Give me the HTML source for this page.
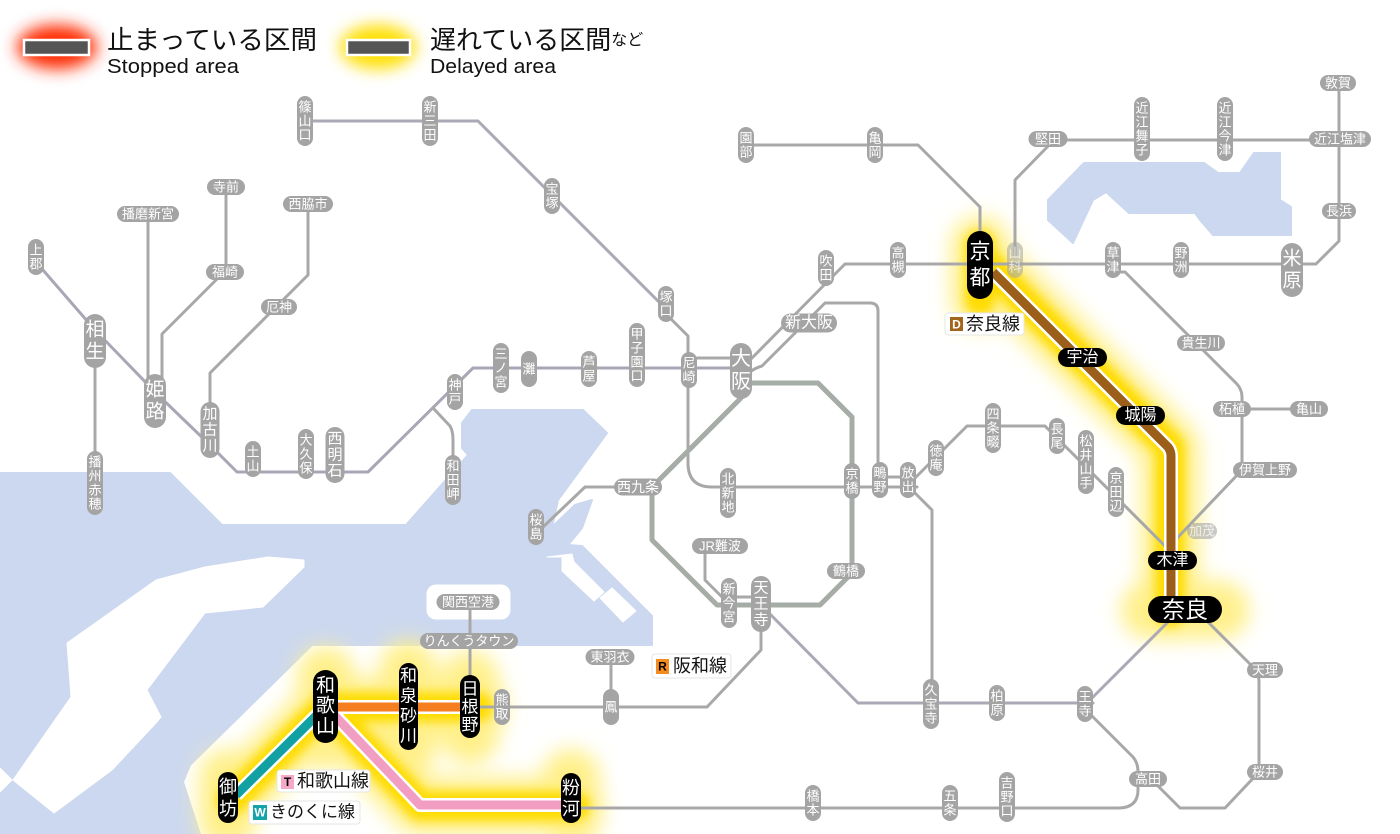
<!DOCTYPE html>
<html><head><meta charset="utf-8"><style>
html,body{margin:0;padding:0;background:#fff;}
body{width:1400px;height:834px;overflow:hidden;}
svg{display:block;font-family:"Liberation Sans","Noto Sans CJK JP",sans-serif;}
.g{fill:none;stroke:#a8a8a8;stroke-width:3;stroke-linejoin:round;stroke-linecap:round;}
.sp{fill:#a4a4a4;}
.st{fill:#fff;font-size:13px;text-anchor:middle;dominant-baseline:central;}
.m{font-size:15px;}
.l{font-size:19px;}
.bk{fill:#000;}
.bt{fill:#fff;text-anchor:middle;dominant-baseline:central;}
.lg{fill:#fff;stroke:#e6e6e6;stroke-width:1;}
.lt{fill:#111;dominant-baseline:central;}
</style></head><body>
<svg width="1400" height="834" viewBox="0 0 1400 834" xmlns="http://www.w3.org/2000/svg">
<defs>
<filter id="bl" filterUnits="userSpaceOnUse" x="0" y="0" width="1400" height="834"><feGaussianBlur stdDeviation="10"/></filter>
<filter id="bs" filterUnits="userSpaceOnUse" x="0" y="0" width="1400" height="834"><feGaussianBlur stdDeviation="5"/></filter>
<filter id="bm" filterUnits="userSpaceOnUse" x="0" y="0" width="1400" height="834"><feGaussianBlur stdDeviation="8"/></filter>
</defs>

<!-- water -->
<g fill="#ccd8ef" stroke="#ccd8ef" stroke-width="2" stroke-linejoin="round">
<polygon points="0,473 170,473 222,525 406,525 468,455 462,448 462,423 472,410 583,410 607,433 558,500 552,527 575,505 592,500 582,528 568,545 582,546 652,616 652,645 312,645 190,765 183,782 200,834 0,834"/>
<polygon points="1084,163 1204,163 1218,173 1240,173 1254,153 1280,153 1280,200 1291,207 1291,235 1213,235 1200,220 1195,213 1129,213 1106,192 1093,200 1073,243 1048,220 1048,200"/>
</g>
<g fill="#fff" stroke="#fff" stroke-width="1" stroke-linejoin="round">
<polygon points="205,567 268,557 304,560 304,567 263,607 205,613 147,690 161,717 156,723 112,770 54,813 13,780 71,697 67,643 156,580"/>
<polygon points="0,768 12,780 0,792"/>
<rect x="427" y="585" width="83" height="34" rx="9"/>
<polygon points="547,557 562,557 562,571 594,601 604,592 574,562 572,554"/>
<polygon points="600,598 612,588 636,611 623,622"/>
</g>

<!-- legend glows -->
<ellipse cx="57" cy="47" rx="40" ry="22" fill="#ff2a00" filter="url(#bm)"/>
<ellipse cx="378" cy="47" rx="38" ry="22" fill="#ffdf00" filter="url(#bm)"/>
<rect x="24" y="40" width="65" height="15" fill="#555" stroke="#fff" stroke-width="2.5"/>
<rect x="347" y="40" width="63" height="15" fill="#555" stroke="#fff" stroke-width="2.5"/>
<text x="107" y="40" font-size="26" class="lt" textLength="210" lengthAdjust="spacingAndGlyphs">止まっている区間</text>
<text x="107" y="73" font-size="20" fill="#111" textLength="132" lengthAdjust="spacingAndGlyphs">Stopped area</text>
<text x="430" y="40" font-size="26" class="lt">遅れている区間<tspan font-size="16">など</tspan></text>
<text x="430" y="73" font-size="20" fill="#111" textLength="126" lengthAdjust="spacingAndGlyphs">Delayed area</text>

<!-- yellow glows on map -->
<g fill="none" stroke-linecap="round" stroke-linejoin="round">
<path d="M980,245 V300 M985,262 L1170,447 V612 M1150,610 H1220" stroke="#fff08a" stroke-width="58" filter="url(#bl)"/>
<path d="M980,245 V300 M985,262 L1170,447 V612" stroke="#ffdc00" stroke-width="30" filter="url(#bs)"/>
<path d="M478,707 H326 L232,800 M326,707 L420,806 H575 M326,676 V740 M408,670 V745 M470,680 V735 M228,778 V820 M571,778 V820" stroke="#fff08a" stroke-width="58" filter="url(#bl)"/>
<path d="M478,707 H326 L232,800 M326,707 L420,806 H575" stroke="#ffdc00" stroke-width="30" filter="url(#bs)"/>
</g>

<!-- gray lines -->
<g class="g">
<path d="M305,121 H478 L667,310" stroke="#aca8b6"/>
<path d="M667,315 L688,336 V463 Q688,487 712,487 H917"/>
<path d="M880,477 H910"/>
<path d="M36,262 L95,330 L155,392 L210,445 L237,472 H368 L473,368 H741" stroke="#aaa6b6"/>
<path d="M433,408 L450,426 Q453,431 453,440 V480"/>
<path d="M689,358 H741"/>
<path d="M95,360 V500"/>
<path d="M148,214 V385"/>
<path d="M226,190 V270 L162,334 V390"/>
<path d="M308,208 V275 L210,373 V420"/>
<path d="M746,145 H918 L980,207 V240"/>
<path d="M748,362 L833,276 L845,264 H1316 L1339,241 V83"/>
<path d="M1015,255 V180 L1054,140 H1340"/>
<path d="M750,372 Q755,368 762,366 L825,303 H870 Q878,303 878,311 V487"/>
<path d="M638,487 H585 L543,527"/>
<path d="M705,546 V580 L722,597 H755"/>
<path d="M761,630 V650 L707,707 H480"/>
<path d="M611,660 V700"/>
<path d="M470,602 V680"/>
<path d="M768,612 L858,703 H1093" stroke="#aca8b6"/>
<path d="M1090,700 L1167,623" stroke="#aca8b6"/>
<path d="M912,490 L932,510 V704"/>
<path d="M915,478 L967,426 H1045 L1170,551"/>
<path d="M1113,272 H1125 L1236,383 Q1242,389 1242,397 V470 L1180,535 L1171,545"/>
<path d="M1232,409 H1309"/>
<path d="M1208,622 L1250,664 Q1259,672 1259,682 V772 L1225,808 H1180 L1157,785"/>
<path d="M1091,715 L1133,757 Q1138,763 1138,772"/>
<path d="M580,808 H1118 Q1138,808 1138,790 V780"/>
<path d="M741,383 H818 L852,417 V573 L820,605 H717 L652,540 V487 L741,398" stroke-width="5" stroke="#a6aca6"/>
</g>

<!-- highlighted lines -->
<g fill="none" stroke-linejoin="round">
<path d="M993,272 L1168,447 Q1171,451 1171,456 V600" stroke="#fff" stroke-width="14"/>
<path d="M993,272 L1168,447 Q1171,451 1171,456 V600" stroke="#9c5f1a" stroke-width="9"/>
<path d="M336,707 H462" stroke="#fff" stroke-width="14"/>
<path d="M336,707 H462" stroke="#f57f20" stroke-width="9"/>
<path d="M318,714 L236,795" stroke="#fff" stroke-width="14"/>
<path d="M318,714 L236,795" stroke="#12a0a3" stroke-width="9"/>
<path d="M335,716 L420,805 H563" stroke="#fff" stroke-width="14"/>
<path d="M335,716 L420,805 H563" stroke="#f19ec2" stroke-width="9"/>
</g>

<!-- gray vertical stations -->
<g>
<g class="sp">
<rect x="297" y="96" width="16" height="50" rx="8"/>
<rect x="422" y="96" width="16" height="50" rx="8"/>
<rect x="544" y="178" width="16" height="36" rx="8"/>
<rect x="658" y="286" width="16" height="36" rx="8"/>
<rect x="681" y="352" width="16" height="36" rx="8"/>
<rect x="629" y="323" width="16" height="64" rx="8"/>
<rect x="581" y="351" width="16" height="36" rx="8"/>
<rect x="521" y="351" width="16" height="36" rx="8"/>
<rect x="493" y="343" width="16" height="50" rx="8"/>
<rect x="447" y="374" width="16" height="36" rx="8"/>
<rect x="445" y="455" width="16" height="50" rx="8"/>
<rect x="298" y="429" width="16" height="50" rx="8"/>
<rect x="245" y="441" width="16" height="36" rx="8"/>
<rect x="28" y="239" width="16" height="36" rx="8"/>
<rect x="87" y="451" width="16" height="64" rx="8"/>
<rect x="738" y="127" width="16" height="36" rx="8"/>
<rect x="867" y="127" width="16" height="36" rx="8"/>
<rect x="818" y="250" width="16" height="36" rx="8"/>
<rect x="890" y="242" width="16" height="36" rx="8"/>
<rect x="1007" y="242" width="16" height="36" rx="8" opacity="0.55"/>
<rect x="1105" y="242" width="16" height="36" rx="8"/>
<rect x="1173" y="242" width="16" height="36" rx="8"/>
<rect x="1134" y="97" width="16" height="64" rx="8"/>
<rect x="1217" y="97" width="16" height="64" rx="8"/>
<rect x="985" y="403" width="16" height="50" rx="8"/>
<rect x="928" y="440" width="16" height="36" rx="8"/>
<rect x="1049" y="418" width="16" height="36" rx="8"/>
<rect x="1078" y="430" width="16" height="64" rx="8"/>
<rect x="1108" y="467" width="16" height="50" rx="8"/>
<rect x="720" y="468" width="16" height="50" rx="8"/>
<rect x="844" y="463" width="16" height="36" rx="8"/>
<rect x="872" y="462" width="16" height="36" rx="8"/>
<rect x="900" y="462" width="16" height="36" rx="8"/>
<rect x="528" y="509" width="16" height="36" rx="8"/>
<rect x="721" y="578" width="16" height="50" rx="8"/>
<rect x="923" y="679" width="16" height="50" rx="8"/>
<rect x="989" y="685" width="16" height="36" rx="8"/>
<rect x="1077" y="686" width="16" height="36" rx="8"/>
<rect x="494" y="689" width="16" height="36" rx="8"/>
<rect x="603" y="689" width="16" height="36" rx="8"/>
<rect x="999" y="772" width="16" height="50" rx="8"/>
<rect x="942" y="785" width="16" height="36" rx="8"/>
<rect x="805" y="785" width="16" height="36" rx="8"/>
<rect x="325.5" y="427" width="19" height="56" rx="9.5"/>
<rect x="200.5" y="402" width="19" height="56" rx="9.5"/>
<rect x="751" y="576" width="20" height="56" rx="10"/>
<rect x="144" y="374" width="22" height="54" rx="11"/>
<rect x="84" y="314" width="22" height="54" rx="11"/>
<rect x="1281" y="243" width="22" height="54" rx="11"/>
<rect x="730" y="343" width="22" height="56" rx="11"/>
</g>
<g class="st">
<text x="305" y="107">篠</text><text x="305" y="121">山</text><text x="305" y="135">口</text>
<text x="430" y="107">新</text><text x="430" y="121">三</text><text x="430" y="135">田</text>
<text x="552" y="189">宝</text><text x="552" y="203">塚</text>
<text x="666" y="297">塚</text><text x="666" y="311">口</text>
<text x="689" y="363">尼</text><text x="689" y="377">崎</text>
<text x="637" y="334">甲</text><text x="637" y="348">子</text><text x="637" y="362">園</text><text x="637" y="376">口</text>
<text x="589" y="362">芦</text><text x="589" y="376">屋</text>
<text x="529" y="369">灘</text>
<text x="501" y="354">三</text><text x="501" y="368">ノ</text><text x="501" y="382">宮</text>
<text x="455" y="385">神</text><text x="455" y="399">戸</text>
<text x="453" y="466">和</text><text x="453" y="480">田</text><text x="453" y="494">岬</text>
<text x="306" y="440">大</text><text x="306" y="454">久</text><text x="306" y="468">保</text>
<text x="253" y="452">土</text><text x="253" y="466">山</text>
<text x="36" y="250">上</text><text x="36" y="264">郡</text>
<text x="95" y="462">播</text><text x="95" y="476">州</text><text x="95" y="490">赤</text><text x="95" y="504">穂</text>
<text x="746" y="138">園</text><text x="746" y="152">部</text>
<text x="875" y="138">亀</text><text x="875" y="152">岡</text>
<text x="826" y="261">吹</text><text x="826" y="275">田</text>
<text x="898" y="253">高</text><text x="898" y="267">槻</text>
<g opacity="0.7"><text x="1015" y="253">山</text><text x="1015" y="267">科</text></g>
<text x="1113" y="253">草</text><text x="1113" y="267">津</text>
<text x="1181" y="253">野</text><text x="1181" y="267">洲</text>
<text x="1142" y="108">近</text><text x="1142" y="122">江</text><text x="1142" y="136">舞</text><text x="1142" y="150">子</text>
<text x="1225" y="108">近</text><text x="1225" y="122">江</text><text x="1225" y="136">今</text><text x="1225" y="150">津</text>
<text x="993" y="414">四</text><text x="993" y="428">条</text><text x="993" y="442">畷</text>
<text x="936" y="451">徳</text><text x="936" y="465">庵</text>
<text x="1057" y="429">長</text><text x="1057" y="443">尾</text>
<text x="1086" y="441">松</text><text x="1086" y="455">井</text><text x="1086" y="469">山</text><text x="1086" y="483">手</text>
<text x="1116" y="478">京</text><text x="1116" y="492">田</text><text x="1116" y="506">辺</text>
<text x="728" y="479">北</text><text x="728" y="493">新</text><text x="728" y="507">地</text>
<text x="852" y="474">京</text><text x="852" y="488">橋</text>
<text x="880" y="473">鴫</text><text x="880" y="487">野</text>
<text x="908" y="473">放</text><text x="908" y="487">出</text>
<text x="536" y="520">桜</text><text x="536" y="534">島</text>
<text x="729" y="589">新</text><text x="729" y="603">今</text><text x="729" y="617">宮</text>
<text x="931" y="690">久</text><text x="931" y="704">宝</text><text x="931" y="718">寺</text>
<text x="997" y="696">柏</text><text x="997" y="710">原</text>
<text x="1085" y="697">王</text><text x="1085" y="711">寺</text>
<text x="502" y="700">熊</text><text x="502" y="714">取</text>
<text x="611" y="707">鳳</text>
<text x="1007" y="783">吉</text><text x="1007" y="797">野</text><text x="1007" y="811">口</text>
<text x="950" y="796">五</text><text x="950" y="810">条</text>
<text x="813" y="796">橋</text><text x="813" y="810">本</text>
</g>
<g class="st m">
<text x="335" y="439">西</text><text x="335" y="455">明</text><text x="335" y="471">石</text>
<text x="210" y="414">加</text><text x="210" y="430">古</text><text x="210" y="446">川</text>
<text x="761" y="588">天</text><text x="761" y="604">王</text><text x="761" y="620">寺</text>
</g>
<g class="st l">
<text x="155" y="390">姫</text><text x="155" y="412">路</text>
<text x="95" y="330">相</text><text x="95" y="352">生</text>
<text x="1292" y="259">米</text><text x="1292" y="281">原</text>
<text x="741" y="359" font-size="20">大</text><text x="741" y="382" font-size="20">阪</text>
</g>
</g>

<!-- gray horizontal stations -->
<g class="sp">
<rect x="207" y="179" width="38" height="16" rx="8"/>
<rect x="117" y="206" width="62" height="16" rx="8"/>
<rect x="283" y="196" width="50" height="16" rx="8"/>
<rect x="206" y="264" width="38" height="16" rx="8"/>
<rect x="261" y="299" width="36" height="16" rx="8"/>
<rect x="781" y="313.5" width="56" height="19" rx="9.5"/>
<rect x="614" y="478.5" width="48" height="17" rx="8.5"/>
<rect x="692" y="538" width="56" height="16" rx="8"/>
<rect x="827" y="563" width="38" height="16" rx="8"/>
<rect x="585.5" y="649" width="49" height="16" rx="8"/>
<rect x="420" y="633" width="98" height="16" rx="8"/>
<rect x="436.5" y="594" width="63" height="16" rx="8"/>
<rect x="1028.5" y="131" width="39" height="16" rx="8"/>
<rect x="1320" y="75" width="36" height="16" rx="8"/>
<rect x="1309" y="131" width="62" height="16" rx="8"/>
<rect x="1322" y="203" width="34" height="16" rx="8"/>
<rect x="1177" y="335" width="48" height="16" rx="8"/>
<rect x="1213" y="401" width="38" height="16" rx="8"/>
<rect x="1290" y="401" width="38" height="16" rx="8"/>
<rect x="1233" y="462" width="64" height="16" rx="8"/>
<rect x="1187" y="523" width="30" height="16" rx="8" opacity="0.6"/>
<rect x="1247" y="662" width="36" height="16" rx="8"/>
<rect x="1247" y="764" width="36" height="16" rx="8"/>
<rect x="1129" y="771" width="38" height="16" rx="8"/>
</g>
<g class="st">
<text x="226" y="187">寺前</text>
<text x="148" y="214">播磨新宮</text>
<text x="308" y="204">西脇市</text>
<text x="225" y="272">福崎</text>
<text x="279" y="307">厄神</text>
<text x="809" y="323" font-size="16">新大阪</text>
<text x="638" y="487" font-size="14">西九条</text>
<text x="720" y="546">JR難波</text>
<text x="846" y="571">鶴橋</text>
<text x="610" y="657">東羽衣</text>
<text x="469" y="641">りんくうタウン</text>
<text x="468" y="602">関西空港</text>
<text x="1048" y="139">堅田</text>
<text x="1338" y="83">敦賀</text>
<text x="1340" y="139">近江塩津</text>
<text x="1339" y="211">長浜</text>
<text x="1201" y="343">貴生川</text>
<text x="1232" y="409">柘植</text>
<text x="1309" y="409">亀山</text>
<text x="1265" y="470">伊賀上野</text>
<text x="1202" y="531" opacity="0.75">加茂</text>
<text x="1265" y="670">天理</text>
<text x="1265" y="772">桜井</text>
<text x="1148" y="779">高田</text>
</g>

<!-- black stations -->
<g class="bk">
<rect x="967" y="231" width="26" height="68" rx="13"/>
<rect x="1058" y="348" width="49" height="19" rx="9.5"/>
<rect x="1116" y="406" width="49" height="19" rx="9.5"/>
<rect x="1148" y="551" width="49" height="19" rx="9.5"/>
<rect x="1148" y="596" width="74" height="27" rx="13.5"/>
<rect x="313" y="670" width="25" height="73" rx="12.5"/>
<rect x="399" y="663" width="19" height="87" rx="9.5"/>
<rect x="460" y="675" width="20" height="63" rx="10"/>
<rect x="218" y="772" width="20" height="51" rx="10"/>
<rect x="561" y="773" width="20" height="50" rx="10"/>
</g>
<g class="bt">
<text x="980" y="252" font-size="21">京</text><text x="980" y="278" font-size="21">都</text>
<text x="1082.5" y="357.5" font-size="16">宇治</text>
<text x="1140.5" y="415.5" font-size="16">城陽</text>
<text x="1172.5" y="560.5" font-size="16">木津</text>
<text x="1185" y="609.5" font-size="23">奈良</text>
<text x="325.5" y="686" font-size="19">和</text><text x="325.5" y="706" font-size="19">歌</text><text x="325.5" y="727" font-size="19">山</text>
<text x="408.5" y="676" font-size="17">和</text><text x="408.5" y="696" font-size="17">泉</text><text x="408.5" y="716" font-size="17">砂</text><text x="408.5" y="736" font-size="17">川</text>
<text x="470" y="689" font-size="17">日</text><text x="470" y="707" font-size="17">根</text><text x="470" y="725" font-size="17">野</text>
<text x="228" y="787" font-size="18">御</text><text x="228" y="809" font-size="18">坊</text>
<text x="571" y="788" font-size="18">粉</text><text x="571" y="809" font-size="18">河</text>
</g>

<!-- line name labels -->
<g>
<rect class="lg" x="945" y="313" width="79" height="22" rx="3"/>
<rect x="950" y="317" width="13" height="14" fill="#a3651c"/>
<text x="956.5" y="324.5" font-size="12" font-weight="bold" class="bt">D</text>
<text x="966" y="324" font-size="18" class="lt">奈良線</text>

<rect class="lg" x="652" y="654" width="79" height="24" rx="3"/>
<rect x="656" y="659" width="13" height="15" fill="#f58a1f"/>
<text x="662.5" y="666.5" font-size="12" font-weight="bold" fill="#000" text-anchor="middle" dominant-baseline="central">R</text>
<text x="673" y="666" font-size="18" class="lt">阪和線</text>

<rect class="lg" x="277" y="770" width="93" height="22" rx="3"/>
<rect x="281" y="775" width="13" height="14" fill="#f6a8c8"/>
<text x="287.5" y="782" font-size="12" font-weight="bold" fill="#000" text-anchor="middle" dominant-baseline="central">T</text>
<text x="297" y="781" font-size="18" class="lt">和歌山線</text>

<rect class="lg" x="249" y="801" width="111" height="23" rx="3"/>
<rect x="253" y="805" width="14" height="15" fill="#14a3a8"/>
<text x="260" y="812.5" font-size="12" font-weight="bold" class="bt">W</text>
<text x="270" y="812" font-size="17" class="lt">きのくに線</text>
</g>
</svg>
</body></html>
